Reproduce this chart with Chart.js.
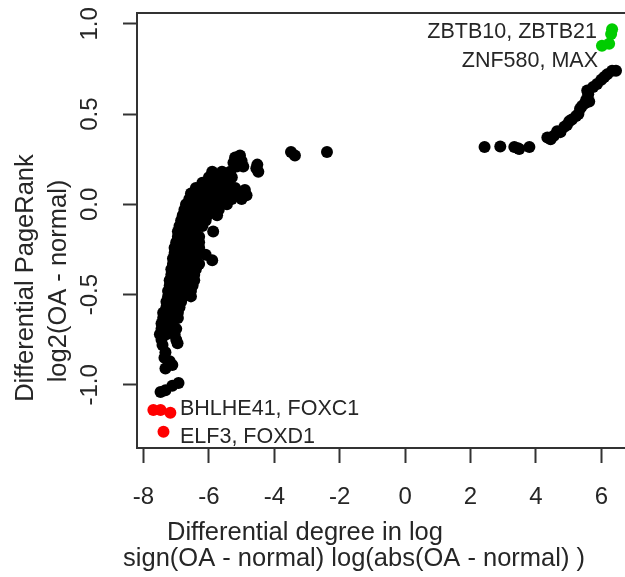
<!DOCTYPE html>
<html>
<head>
<meta charset="utf-8">
<script src="https://cdn.jsdelivr.net/npm/chart.js@4"></script>
<style>
  html, body { margin: 0; padding: 0; background: #fff; overflow: hidden; }
  canvas { display: block; }
</style>
</head>
<body>
<canvas id="scatterChart" width="640" height="577"></canvas>
<script>
// other genes (black)
const blackPoints = [
  [-3.49, 0.29], [-3.37, 0.27], [-2.39, 0.29],
  [-5.05, 0.27], [-5.2, 0.26], [-5.25, 0.23], [-5.0, 0.24], [-5.15, 0.21], [-4.95, 0.21],
  [-4.52, 0.22], [-4.49, 0.18], [-4.55, 0.2],
  [-5.9, 0.18], [-5.6, 0.18], [-5.35, 0.18],
  [-6.0, 0.15], [-5.75, 0.15], [-5.5, 0.15], [-5.3, 0.15],
  [-6.2, 0.12], [-5.9, 0.12], [-5.6, 0.12], [-5.4, 0.12],
  [-6.4, 0.09], [-6.1, 0.09], [-5.8, 0.09], [-5.5, 0.09], [-5.2, 0.09], [-4.9, 0.08],
  [-6.55, 0.06], [-6.3, 0.06], [-6.0, 0.06], [-5.7, 0.06], [-5.4, 0.06], [-5.1, 0.06], [-4.85, 0.05],
  [-6.6, 0.03], [-6.35, 0.03], [-6.1, 0.03], [-5.85, 0.03], [-5.6, 0.03], [-5.3, 0.03], [-5.0, 0.03],
  [-6.7, 0.0], [-6.45, 0.0], [-6.2, 0.0], [-5.95, 0.0], [-5.7, 0.0], [-5.45, 0.0],
  [-6.75, -0.03], [-6.5, -0.03], [-6.25, -0.03], [-6.0, -0.03], [-5.7, -0.03],
  [-6.8, -0.06], [-6.55, -0.06], [-6.3, -0.06], [-6.05, -0.06], [-5.75, -0.06],
  [-6.85, -0.09], [-6.6, -0.09], [-6.35, -0.09], [-6.1, -0.09],
  [-6.9, -0.12], [-6.65, -0.12], [-6.4, -0.12], [-6.2, -0.12],
  [-6.95, -0.15], [-6.7, -0.15], [-6.45, -0.15], [-5.87, -0.15],
  [-6.95, -0.18], [-6.75, -0.18], [-6.5, -0.18], [-6.3, -0.18],
  [-7.0, -0.21], [-6.8, -0.21], [-6.55, -0.21], [-6.3, -0.21],
  [-7.05, -0.24], [-6.8, -0.24], [-6.55, -0.24], [-6.3, -0.24],
  [-7.05, -0.27], [-6.85, -0.27], [-6.6, -0.27], [-6.35, -0.27], [-6.1, -0.28], [-5.9, -0.31],
  [-7.1, -0.3], [-6.9, -0.3], [-6.6, -0.3], [-6.4, -0.3],
  [-7.1, -0.33], [-6.85, -0.33], [-6.6, -0.33], [-6.3, -0.33],
  [-7.15, -0.36], [-6.9, -0.36], [-6.65, -0.36], [-6.4, -0.36],
  [-7.15, -0.39], [-6.95, -0.39], [-6.7, -0.39], [-6.45, -0.39],
  [-7.2, -0.42], [-6.95, -0.42], [-6.7, -0.42], [-6.45, -0.42],
  [-7.2, -0.45], [-7.0, -0.45], [-6.75, -0.45], [-6.5, -0.45],
  [-7.25, -0.48], [-7.0, -0.48], [-6.8, -0.48], [-6.55, -0.48],
  [-7.25, -0.51], [-7.05, -0.51], [-6.8, -0.51], [-6.55, -0.51],
  [-7.3, -0.54], [-7.05, -0.54], [-6.85, -0.54],
  [-7.3, -0.57], [-7.1, -0.57], [-6.9, -0.57],
  [-7.4, -0.6], [-7.15, -0.6], [-6.95, -0.6],
  [-7.4, -0.63], [-7.15, -0.63], [-6.95, -0.63],
  [-7.45, -0.66], [-7.2, -0.66],
  [-7.45, -0.69], [-7.25, -0.69], [-7.0, -0.69],
  [-7.5, -0.72], [-7.3, -0.72], [-7.05, -0.72],
  [-7.45, -0.75], [-7.0, -0.75],
  [-7.42, -0.78], [-6.96, -0.77], [-7.33, -0.82], [-7.36, -0.85], [-7.2, -0.87], [-7.12, -0.89], [-7.33, -0.91],
  [-7.48, -1.04], [-7.33, -1.03], [-7.12, -1.005], [-6.93, -0.99],
  [2.43, 0.317], [2.91, 0.32], [3.34, 0.317], [3.49, 0.306], [3.8, 0.317], [3.45, 0.31],
  [4.35, 0.37], [4.45, 0.36], [4.55, 0.38], [4.65, 0.405], [4.75, 0.4], [4.87, 0.43],
  [4.95, 0.44], [5.02, 0.46], [5.1, 0.47], [5.23, 0.49], [5.3, 0.5], [5.35, 0.53],
  [5.41, 0.545], [5.5, 0.56], [5.63, 0.57], [5.54, 0.58], [5.6, 0.61], [5.57, 0.63],
  [5.75, 0.65], [5.87, 0.667], [6.0, 0.69], [6.09, 0.705], [6.18, 0.72], [6.33, 0.74], [6.45, 0.74]
];
// top genes (green) and bottom genes (red)
const greenPoints = [[6.33, 0.97], [6.3, 0.944], [6.02, 0.878], [6.24, 0.889]];
const redPoints = [[-7.7, -1.14], [-7.48, -1.14], [-7.18, -1.155], [-7.39, -1.26]];

const greenLabels = ['ZBTB10, ZBTB21', 'ZNF580, MAX'];
const redLabels = ['BHLHE41, FOXC1', 'ELF3, FOXD1'];

const xTicks = [-8, -6, -4, -2, 0, 2, 4, 6];
const yTicks = [-1.0, -0.5, 0.0, 0.5, 1.0];

const xTitle = ['Differential degree in log', 'sign(OA - normal) log(abs(OA - normal) )'];
const yTitle = ['Differential PageRank', 'log2(OA - normal)'];

const FONT = '"Liberation Sans", Arial, sans-serif';
const INK = '#262626';

function toXY(arr) {
    return arr.map(function (p) { return { x: p[0], y: p[1] }; });
}

function dotSet(data, color) {
    return {
        data: toXY(data),
        backgroundColor: color,
        borderWidth: 0,
        pointRadius: 6,
        pointHoverRadius: 6
    };
}

// frame, y tick labels, axis titles and gene labels
const decorations = {
    id: 'decorations',
    afterDraw: function (chart) {
        const c = chart.ctx;
        const area = chart.chartArea;
        const yScale = chart.scales.y;
        c.save();
        c.strokeStyle = '#333';
        c.lineWidth = 2;
        c.strokeRect(area.left, area.top, area.right - area.left, area.bottom - area.top);

        c.fillStyle = INK;
        c.font = '24px ' + FONT;
        c.textAlign = 'center';
        c.textBaseline = 'alphabetic';
        yTicks.forEach(function (v) {
            c.save();
            c.translate(97, yScale.getPixelForValue(v));
            c.rotate(-Math.PI / 2);
            c.fillText(v.toFixed(1), 0, 0);
            c.restore();
        });

        c.font = '25.5px ' + FONT;
        c.fillText(xTitle[0], 305, 540);
        c.fillText(xTitle[1], 354, 566);

        c.save();
        c.translate(33, 278);
        c.rotate(-Math.PI / 2);
        c.fillText(yTitle[0], 0, 0);
        c.restore();
        c.save();
        c.translate(66, 281);
        c.rotate(-Math.PI / 2);
        c.fillText(yTitle[1], 0, 0);
        c.restore();

        c.font = '21.5px ' + FONT;
        c.textAlign = 'right';
        c.fillText(greenLabels[0], 597, 38);
        c.fillText(greenLabels[1], 598, 67);
        c.textAlign = 'left';
        c.fillText(redLabels[0], 180, 415);
        c.fillText(redLabels[1], 180, 443);
        c.restore();
    }
};

function generateScatterChart() {
    var ctx = document.getElementById('scatterChart').getContext('2d');
    var myChart = new Chart(ctx, {
        type: 'scatter',
        data: {
            datasets: [
                dotSet(greenPoints, '#00cd00'),
                dotSet(redPoints, '#ff0000'),
                dotSet(blackPoints, '#000000')
            ]
        },
        options: {
            responsive: false,
            animation: false,
            devicePixelRatio: 1,
            layout: { padding: { top: 13, right: 5, left: 0, bottom: 0 } },
            plugins: {
                legend: { display: false },
                tooltip: { enabled: false }
            },
            scales: {
                x: {
                    type: 'linear',
                    min: -8.2,
                    max: 7.0,
                    afterBuildTicks: function (scale) {
                        scale.ticks = xTicks.map(function (v) { return { value: v }; });
                    },
                    afterFit: function (scale) { scale.height = 129; },
                    border: { display: false },
                    grid: {
                        drawOnChartArea: false,
                        drawTicks: true,
                        tickLength: 15,
                        tickWidth: 2,
                        tickColor: '#333'
                    },
                    ticks: {
                        autoSkip: false,
                        maxRotation: 0,
                        padding: 20,
                        color: INK,
                        font: { size: 24, family: FONT },
                        callback: function (v) { return String(v); }
                    }
                },
                y: {
                    type: 'linear',
                    min: -1.35,
                    max: 1.06,
                    afterBuildTicks: function (scale) {
                        scale.ticks = yTicks.map(function (v) { return { value: v }; });
                    },
                    afterFit: function (scale) { scale.width = 137; },
                    border: { display: false },
                    grid: {
                        drawOnChartArea: false,
                        drawTicks: true,
                        tickLength: 14,
                        tickWidth: 2,
                        tickColor: '#333'
                    },
                    ticks: { display: false }
                }
            }
        },
        plugins: [decorations]
    });
}

generateScatterChart();
</script>
</body>
</html>
